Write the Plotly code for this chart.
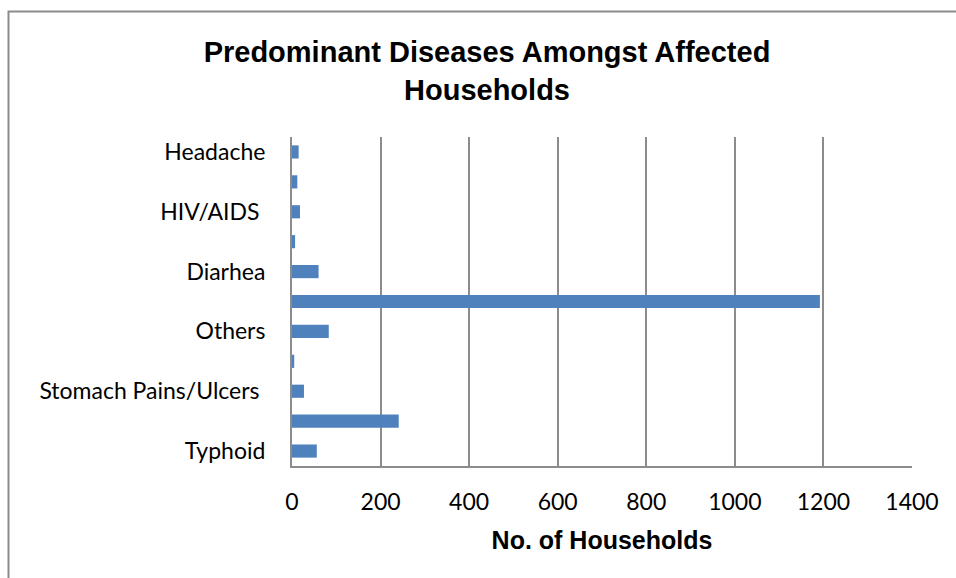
import plotly.graph_objects as go

# categories bottom -> top, every second one has no visible label in the source chart
categories = ["Typhoid", "cat_2", "Stomach Pains/Ulcers", "cat_4", "Others",
              "cat_6", "Diarhea", "cat_8", "HIV/AIDS", "cat_10", "Headache"]
households = [56, 241, 27, 5, 83, 1192, 60, 7, 18, 12, 15]

shown_labels = ["Typhoid", "Stomach Pains/Ulcers\u00a0", "Others", "Diarhea",
                "HIV/AIDS\u00a0", "Headache"]
x_ticks = [0, 200, 400, 600, 800, 1000, 1200, 1400]

fig = go.Figure()
fig.add_trace(go.Bar(
    x=households,
    y=categories,
    orientation="h",
    marker=dict(color="#4f81bd", line=dict(width=0)),
    hoverinfo="x+y",
))

# plot area in pixels: x 292..912, y 137..466
L, R, T, B = 292, 912, 137, 466
W, H = 956, 578

def px(x):
    return (x - L) / (R - L)

def py(y):
    return (B - y) / (B - T)

fig.update_layout(
    width=W, height=H,
    margin=dict(l=L, r=W - R, t=T, b=H - B),
    paper_bgcolor="white",
    plot_bgcolor="white",
    bargap=0.56,
    showlegend=False,
    title=dict(
        text="Predominant Diseases Amongst Affected<br>Households",
        x=487 / W, xanchor="center",
        y=1 - 62 / H, yanchor="middle", yref="container",
        font=dict(family="Liberation Sans, Arial", size=29, color="black", weight="bold"),
    ),
    xaxis=dict(
        range=[0, 1400],
        tickvals=x_ticks,
        showgrid=True,
        gridcolor="#8c8c8c",
        gridwidth=2,
        zeroline=False,
        showline=True,
        linecolor="#8c8c8c",
        linewidth=2,
        ticks="",
        ticklabelstandoff=14,
        tickfont=dict(family="Lato, Calibri", size=23, color="black"),
        title=dict(text="No. of Households", standoff=18,
                   font=dict(family="Liberation Sans, Arial", size=25, color="black", weight="bold")),
        fixedrange=True,
    ),
    yaxis=dict(
        type="category",
        categoryorder="array",
        categoryarray=categories,
        tickvals=categories[::2],
        ticktext=shown_labels,
        showgrid=False,
        zeroline=False,
        showline=True,
        linecolor="#8c8c8c",
        linewidth=2,
        ticks="",
        ticklabelstandoff=20,
        tickfont=dict(family="Lato, Calibri", size=23, color="black"),
        fixedrange=True,
    ),
    shapes=[dict(
        type="rect", xref="paper", yref="paper",
        x0=px(8.5), x1=px(970), y0=py(11.5), y1=py(600),
        line=dict(color="#8c8c8c", width=2), fillcolor="rgba(0,0,0,0)",
        layer="below",
    )],
)

# page body margin would push the figure 8px right/down
fig.write_html("out.html", config={"displayModeBar": False},
               post_script="document.body.style.margin='0';")
